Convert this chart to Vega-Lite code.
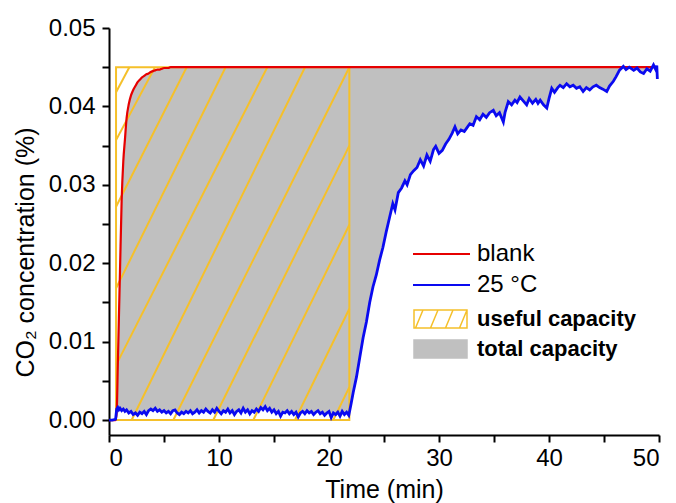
{
  "$schema": "https://vega.github.io/schema/vega-lite/v6.json",
  "width": 550,
  "height": 407,
  "autosize": "none",
  "padding": {"left": 109, "top": 28, "right": 17, "bottom": 68},
  "background": "white",
  "config": {
    "view": {"stroke": null},
    "axis": {
      "grid": false,
      "domainColor": "black",
      "domainWidth": 2,
      "tickColor": "black",
      "tickWidth": 2,
      "tickSize": 7,
      "labelFont": "Liberation Sans",
      "labelFontSize": 24,
      "labelColor": "black",
      "titleFont": "Liberation Sans",
      "titleFontSize": 25,
      "titleFontWeight": "normal",
      "titleColor": "black"
    }
  },
  "datasets": {
    "curves": [
      {"t": 0, "blank": 0, "co2": 0},
      {"t": 0.3, "blank": 0, "co2": 0},
      {"t": 0.6, "blank": 0, "co2": 0.0001},
      {"t": 0.7, "blank": 0.001, "co2": 0.0014},
      {"t": 0.8, "blank": 0.007, "co2": 0.0016},
      {"t": 0.9, "blank": 0.013, "co2": 0.0013},
      {"t": 1.0, "blank": 0.019, "co2": 0.0015},
      {"t": 1.15, "blank": 0.028, "co2": 0.0012},
      {"t": 1.3, "blank": 0.033, "co2": 0.0014},
      {"t": 1.45, "blank": 0.0358, "co2": 0.0011},
      {"t": 1.6, "blank": 0.0385, "co2": 0.0013},
      {"t": 1.8, "blank": 0.0403, "co2": 0.0009},
      {"t": 2.0, "blank": 0.0414, "co2": 0.0011},
      {"t": 2.2, "blank": 0.0421, "co2": 0.0007},
      {"t": 2.4, "blank": 0.0426, "co2": 0.0009},
      {"t": 2.6, "blank": 0.0431, "co2": 0.0006},
      {"t": 2.8, "blank": 0.0434, "co2": 0.0010},
      {"t": 3.0, "blank": 0.0437, "co2": 0.0008},
      {"t": 3.2, "blank": 0.0439, "co2": 0.0011},
      {"t": 3.4, "blank": 0.0441, "co2": 0.0007},
      {"t": 3.6, "blank": 0.0442, "co2": 0.0012},
      {"t": 3.8, "blank": 0.0444, "co2": 0.0014},
      {"t": 4.0, "blank": 0.0445, "co2": 0.0012},
      {"t": 4.2, "blank": 0.0446, "co2": 0.0015},
      {"t": 4.4, "blank": 0.0447, "co2": 0.0011},
      {"t": 4.6, "blank": 0.0447, "co2": 0.0013},
      {"t": 4.8, "blank": 0.0448, "co2": 0.0010},
      {"t": 5.0, "blank": 0.0449, "co2": 0.0012},
      {"t": 5.2, "blank": 0.0449, "co2": 0.0009},
      {"t": 5.4, "blank": 0.0449, "co2": 0.0011},
      {"t": 5.6, "blank": 0.045, "co2": 0.0008},
      {"t": 5.8, "blank": 0.045, "co2": 0.0012},
      {"t": 6.0, "blank": 0.045, "co2": 0.0013},
      {"t": 6.2, "blank": 0.045, "co2": 0.0009},
      {"t": 6.4, "blank": 0.045, "co2": 0.0007},
      {"t": 6.6, "blank": 0.045, "co2": 0.0010},
      {"t": 6.8, "blank": 0.045, "co2": 0.0008},
      {"t": 7.0, "blank": 0.045, "co2": 0.0011},
      {"t": 7.2, "blank": 0.045, "co2": 0.0009},
      {"t": 7.4, "blank": 0.045, "co2": 0.0012},
      {"t": 7.6, "blank": 0.045, "co2": 0.0008},
      {"t": 7.8, "blank": 0.045, "co2": 0.0010},
      {"t": 8.0, "blank": 0.045, "co2": 0.0013},
      {"t": 8.2, "blank": 0.045, "co2": 0.0009},
      {"t": 8.4, "blank": 0.045, "co2": 0.0012},
      {"t": 8.6, "blank": 0.045, "co2": 0.0010},
      {"t": 8.8, "blank": 0.045, "co2": 0.0014},
      {"t": 9.0, "blank": 0.045, "co2": 0.0011},
      {"t": 9.2, "blank": 0.045, "co2": 0.0009},
      {"t": 9.4, "blank": 0.045, "co2": 0.0013},
      {"t": 9.6, "blank": 0.045, "co2": 0.0010},
      {"t": 9.8, "blank": 0.045, "co2": 0.0015},
      {"t": 10.0, "blank": 0.045, "co2": 0.0011},
      {"t": 10.2, "blank": 0.045, "co2": 0.0008},
      {"t": 10.4, "blank": 0.045, "co2": 0.0012},
      {"t": 10.6, "blank": 0.045, "co2": 0.0010},
      {"t": 10.8, "blank": 0.045, "co2": 0.0014},
      {"t": 11.0, "blank": 0.045, "co2": 0.0009},
      {"t": 11.2, "blank": 0.045, "co2": 0.0012},
      {"t": 11.4, "blank": 0.045, "co2": 0.0007},
      {"t": 11.6, "blank": 0.045, "co2": 0.0011},
      {"t": 11.8, "blank": 0.045, "co2": 0.0013},
      {"t": 12.0, "blank": 0.045, "co2": 0.0009},
      {"t": 12.2, "blank": 0.045, "co2": 0.0015},
      {"t": 12.4, "blank": 0.045, "co2": 0.0010},
      {"t": 12.6, "blank": 0.045, "co2": 0.0013},
      {"t": 12.8, "blank": 0.045, "co2": 0.0008},
      {"t": 13.0, "blank": 0.045, "co2": 0.0012},
      {"t": 13.2, "blank": 0.045, "co2": 0.0010},
      {"t": 13.4, "blank": 0.045, "co2": 0.0014},
      {"t": 13.6, "blank": 0.045, "co2": 0.0011},
      {"t": 13.8, "blank": 0.045, "co2": 0.0016},
      {"t": 14.0, "blank": 0.045, "co2": 0.0013},
      {"t": 14.2, "blank": 0.045, "co2": 0.0017},
      {"t": 14.4, "blank": 0.045, "co2": 0.0012},
      {"t": 14.6, "blank": 0.045, "co2": 0.0015},
      {"t": 14.8, "blank": 0.045, "co2": 0.0010},
      {"t": 15.0, "blank": 0.045, "co2": 0.0013},
      {"t": 15.2, "blank": 0.045, "co2": 0.0008},
      {"t": 15.4, "blank": 0.045, "co2": 0.0011},
      {"t": 15.6, "blank": 0.045, "co2": 0.0005},
      {"t": 15.8, "blank": 0.045, "co2": 0.0010},
      {"t": 16.0, "blank": 0.045, "co2": 0.0009},
      {"t": 16.2, "blank": 0.045, "co2": 0.0012},
      {"t": 16.4, "blank": 0.045, "co2": 0.0008},
      {"t": 16.6, "blank": 0.045, "co2": 0.0011},
      {"t": 16.8, "blank": 0.045, "co2": 0.0007},
      {"t": 17.0, "blank": 0.045, "co2": 0.0010},
      {"t": 17.2, "blank": 0.045, "co2": 0.0004},
      {"t": 17.4, "blank": 0.045, "co2": 0.0009},
      {"t": 17.6, "blank": 0.045, "co2": 0.0011},
      {"t": 17.8, "blank": 0.045, "co2": 0.0008},
      {"t": 18.0, "blank": 0.045, "co2": 0.0012},
      {"t": 18.2, "blank": 0.045, "co2": 0.0009},
      {"t": 18.4, "blank": 0.045, "co2": 0.0011},
      {"t": 18.6, "blank": 0.045, "co2": 0.0007},
      {"t": 18.8, "blank": 0.045, "co2": 0.0010},
      {"t": 19.0, "blank": 0.045, "co2": 0.0012},
      {"t": 19.2, "blank": 0.045, "co2": 0.0008},
      {"t": 19.4, "blank": 0.045, "co2": 0.0010},
      {"t": 19.6, "blank": 0.045, "co2": 0.0006},
      {"t": 19.8, "blank": 0.045, "co2": 0.0009},
      {"t": 20.0, "blank": 0.045, "co2": 0.0011},
      {"t": 20.2, "blank": 0.045, "co2": 0.0003},
      {"t": 20.4, "blank": 0.045, "co2": 0.0009},
      {"t": 20.6, "blank": 0.045, "co2": 0.0007},
      {"t": 20.8, "blank": 0.045, "co2": 0.0010},
      {"t": 21.0, "blank": 0.045, "co2": 0.0005},
      {"t": 21.2, "blank": 0.045, "co2": 0.0011},
      {"t": 21.4, "blank": 0.045, "co2": 0.0007},
      {"t": 21.6, "blank": 0.045, "co2": 0.0010},
      {"t": 21.8, "blank": 0.045, "co2": 0.0006},
      {"t": 22.0, "blank": 0.045, "co2": 0.0020},
      {"t": 22.2, "blank": 0.045, "co2": 0.0035},
      {"t": 22.5, "blank": 0.045, "co2": 0.0055},
      {"t": 22.8, "blank": 0.045, "co2": 0.0080},
      {"t": 23.1, "blank": 0.045, "co2": 0.0105},
      {"t": 23.4, "blank": 0.045, "co2": 0.0125},
      {"t": 23.7, "blank": 0.045, "co2": 0.0150},
      {"t": 24.0, "blank": 0.045, "co2": 0.0170},
      {"t": 24.3, "blank": 0.045, "co2": 0.0185},
      {"t": 24.6, "blank": 0.045, "co2": 0.0204},
      {"t": 24.9, "blank": 0.045, "co2": 0.0220},
      {"t": 25.2, "blank": 0.045, "co2": 0.0240},
      {"t": 25.5, "blank": 0.045, "co2": 0.0258},
      {"t": 25.8, "blank": 0.045, "co2": 0.0276},
      {"t": 26.0, "blank": 0.045, "co2": 0.0268},
      {"t": 26.3, "blank": 0.045, "co2": 0.0290},
      {"t": 26.6, "blank": 0.045, "co2": 0.0296},
      {"t": 26.9, "blank": 0.045, "co2": 0.0305},
      {"t": 27.1, "blank": 0.045, "co2": 0.0300},
      {"t": 27.4, "blank": 0.045, "co2": 0.0313},
      {"t": 27.7, "blank": 0.045, "co2": 0.0318},
      {"t": 28.0, "blank": 0.045, "co2": 0.0322},
      {"t": 28.3, "blank": 0.045, "co2": 0.0332},
      {"t": 28.6, "blank": 0.045, "co2": 0.0324},
      {"t": 28.9, "blank": 0.045, "co2": 0.0338},
      {"t": 29.2, "blank": 0.045, "co2": 0.0330},
      {"t": 29.5, "blank": 0.045, "co2": 0.0345},
      {"t": 29.7, "blank": 0.045, "co2": 0.0349},
      {"t": 30.0, "blank": 0.045, "co2": 0.0340},
      {"t": 30.3, "blank": 0.045, "co2": 0.0344},
      {"t": 30.6, "blank": 0.045, "co2": 0.0352},
      {"t": 30.9, "blank": 0.045, "co2": 0.0358},
      {"t": 31.2, "blank": 0.045, "co2": 0.0366},
      {"t": 31.45, "blank": 0.045, "co2": 0.0374},
      {"t": 31.7, "blank": 0.045, "co2": 0.0365},
      {"t": 32.0, "blank": 0.045, "co2": 0.0370},
      {"t": 32.3, "blank": 0.045, "co2": 0.0368},
      {"t": 32.5, "blank": 0.045, "co2": 0.0372},
      {"t": 32.8, "blank": 0.045, "co2": 0.0378},
      {"t": 33.1, "blank": 0.045, "co2": 0.0376},
      {"t": 33.4, "blank": 0.045, "co2": 0.0387},
      {"t": 33.7, "blank": 0.045, "co2": 0.0383},
      {"t": 34.0, "blank": 0.045, "co2": 0.0390},
      {"t": 34.3, "blank": 0.045, "co2": 0.0386},
      {"t": 34.6, "blank": 0.045, "co2": 0.0392},
      {"t": 34.94, "blank": 0.045, "co2": 0.0395},
      {"t": 35.2, "blank": 0.045, "co2": 0.0388},
      {"t": 35.5, "blank": 0.045, "co2": 0.0392},
      {"t": 35.85, "blank": 0.045, "co2": 0.0380},
      {"t": 36.0, "blank": 0.045, "co2": 0.0392},
      {"t": 36.3, "blank": 0.045, "co2": 0.0406},
      {"t": 36.6, "blank": 0.045, "co2": 0.0402},
      {"t": 36.9, "blank": 0.045, "co2": 0.0408},
      {"t": 37.1, "blank": 0.045, "co2": 0.0405},
      {"t": 37.36, "blank": 0.045, "co2": 0.0412},
      {"t": 37.6, "blank": 0.045, "co2": 0.0408},
      {"t": 37.97, "blank": 0.045, "co2": 0.0402},
      {"t": 38.2, "blank": 0.045, "co2": 0.0410},
      {"t": 38.5, "blank": 0.045, "co2": 0.0404},
      {"t": 38.8, "blank": 0.045, "co2": 0.0409},
      {"t": 39.0, "blank": 0.045, "co2": 0.0404},
      {"t": 39.2, "blank": 0.045, "co2": 0.0408},
      {"t": 39.5, "blank": 0.045, "co2": 0.0402},
      {"t": 39.8, "blank": 0.045, "co2": 0.0398},
      {"t": 40.0, "blank": 0.045, "co2": 0.0410},
      {"t": 40.25, "blank": 0.045, "co2": 0.0423},
      {"t": 40.5, "blank": 0.045, "co2": 0.0418},
      {"t": 40.8, "blank": 0.045, "co2": 0.0424},
      {"t": 41.0, "blank": 0.045, "co2": 0.0427},
      {"t": 41.3, "blank": 0.045, "co2": 0.0424},
      {"t": 41.6, "blank": 0.045, "co2": 0.0429},
      {"t": 41.9, "blank": 0.045, "co2": 0.0425},
      {"t": 42.2, "blank": 0.045, "co2": 0.0427},
      {"t": 42.5, "blank": 0.045, "co2": 0.0423},
      {"t": 42.8, "blank": 0.045, "co2": 0.0425},
      {"t": 43.1, "blank": 0.045, "co2": 0.0419},
      {"t": 43.4, "blank": 0.045, "co2": 0.0424},
      {"t": 43.7, "blank": 0.045, "co2": 0.0421},
      {"t": 44.0, "blank": 0.045, "co2": 0.0425},
      {"t": 44.3, "blank": 0.045, "co2": 0.0427},
      {"t": 44.6, "blank": 0.045, "co2": 0.0424},
      {"t": 44.9, "blank": 0.045, "co2": 0.0422},
      {"t": 45.25, "blank": 0.045, "co2": 0.0419},
      {"t": 45.5, "blank": 0.045, "co2": 0.0426},
      {"t": 45.85, "blank": 0.045, "co2": 0.0432},
      {"t": 46.1, "blank": 0.045, "co2": 0.0438},
      {"t": 46.4, "blank": 0.045, "co2": 0.0446},
      {"t": 46.76, "blank": 0.045, "co2": 0.0451},
      {"t": 47.0, "blank": 0.045, "co2": 0.0447},
      {"t": 47.3, "blank": 0.045, "co2": 0.0450},
      {"t": 47.7, "blank": 0.045, "co2": 0.0446},
      {"t": 48.0, "blank": 0.045, "co2": 0.0449},
      {"t": 48.3, "blank": 0.045, "co2": 0.0444},
      {"t": 48.6, "blank": 0.045, "co2": 0.0442},
      {"t": 48.9, "blank": 0.045, "co2": 0.0448},
      {"t": 49.2, "blank": 0.045, "co2": 0.0445},
      {"t": 49.5, "blank": 0.045, "co2": 0.0453},
      {"t": 49.7, "blank": 0.045, "co2": 0.0447},
      {"t": 49.8, "blank": 0.045, "co2": 0.0452},
      {"t": 49.85, "blank": 0.045, "co2": 0.0435}
    ],
    "box": [
      {"start": 0.64, "end": 21.85, "low": 0, "high": 0.045, "kind": "useful capacity"}
    ],
    "hatch": [
      {"x1": 0.64, "y1": 0.0418, "x2": 1.85, "y2": 0.045},
      {"x1": 0.64, "y1": 0.0357, "x2": 4.18, "y2": 0.045},
      {"x1": 0.64, "y1": 0.0272, "x2": 7.06, "y2": 0.045},
      {"x1": 0.64, "y1": 0.0168, "x2": 10.6, "y2": 0.045},
      {"x1": 0.64, "y1": 0.007, "x2": 14.39, "y2": 0.045},
      {"x1": 2.06, "y1": 0, "x2": 17.82, "y2": 0.045},
      {"x1": 5.85, "y1": 0, "x2": 21.85, "y2": 0.045},
      {"x1": 9.48, "y1": 0, "x2": 21.85, "y2": 0.035},
      {"x1": 13.12, "y1": 0, "x2": 21.85, "y2": 0.0249},
      {"x1": 16.91, "y1": 0, "x2": 21.85, "y2": 0.0142},
      {"x1": 20.39, "y1": 0, "x2": 21.85, "y2": 0.0042}
    ]
  },
  "layer": [
    {
      "data": {"name": "curves"},
      "mark": {"type": "area", "opacity": 1, "interpolate": "linear"},
      "encoding": {
        "x": {
          "field": "t", "type": "quantitative",
          "scale": {"domain": [0, 50], "nice": false, "zero": false},
          "axis": {
            "title": "Time (min)",
            "values": [0, 5, 10, 15, 20, 25, 30, 35, 40, 45, 50],
            "format": "d",
            "labelExpr": "datum.value % 10 == 0 ? datum.label : ''",
            "labelPadding": 4,
            "titleBaseline": "alphabetic",
            "titleY": 62
          }
        },
        "y": {
          "field": "blank", "type": "quantitative",
          "scale": {"domain": [-0.00191, 0.05], "nice": false, "zero": false},
          "axis": {
            "title": "CO₂ concentration (%)",
            "values": [0, 0.005, 0.01, 0.015, 0.02, 0.025, 0.03, 0.035, 0.04, 0.045, 0.05],
            "format": ".2f",
            "labelExpr": "round(datum.value * 1000) % 10 == 0 ? datum.label : ''",
            "labelPadding": 7,
            "titleAngle": -90,
            "titleBaseline": "alphabetic",
            "titleAlign": "center",
            "titleX": -76,
            "titleY": 224
          }
        },
        "y2": {"field": "co2"},
        "fill": {
          "datum": "total capacity",
          "scale": {"domain": ["useful capacity", "total capacity"], "range": ["transparent", "#C0C0C0"]},
          "legend": {
            "orient": "none",
            "legendX": 320.5,
            "legendY": 280,
            "title": null,
            "padding": 0,
            "symbolType": "M-2.65,-0.9H2.65V0.9H-2.65Z M-2.5,0.9L-1.75,-0.9 M-1,0.9L-0.25,-0.9 M0.5,0.9L1.25,-0.9 M1.9,0.9L2.65,-0.9",
            "symbolSize": 400,
            "symbolStrokeWidth": 1.5,
            "symbolOpacity": 1,
            "labelFont": "Liberation Sans",
            "labelFontSize": 22,
            "labelFontWeight": "bold",
            "labelColor": "black",
            "labelOffset": 25.5,
            "rowPadding": 6
          }
        }
      }
    },
    {
      "data": {"name": "box"},
      "mark": {"type": "rect", "strokeWidth": 2},
      "encoding": {
        "x": {"field": "start", "type": "quantitative"},
        "x2": {"field": "end"},
        "y": {"field": "low", "type": "quantitative"},
        "y2": {"field": "high"},
        "fill": {"field": "kind", "type": "nominal"},
        "stroke": {
          "field": "kind", "type": "nominal",
          "scale": {"domain": ["useful capacity", "total capacity"], "range": ["#F5C02A", "#C0C0C0"]},
          "legend": {
            "orient": "none",
            "legendX": 320.5,
            "legendY": 280,
            "title": null,
            "padding": 0,
            "symbolType": "M-2.65,-0.9H2.65V0.9H-2.65Z M-2.5,0.9L-1.75,-0.9 M-1,0.9L-0.25,-0.9 M0.5,0.9L1.25,-0.9 M1.9,0.9L2.65,-0.9",
            "symbolSize": 400,
            "symbolStrokeWidth": 1.5,
            "symbolOpacity": 1,
            "labelFont": "Liberation Sans",
            "labelFontSize": 22,
            "labelFontWeight": "bold",
            "labelColor": "black",
            "labelOffset": 25.5,
            "rowPadding": 6
          }
        }
      }
    },
    {
      "data": {"name": "hatch"},
      "mark": {"type": "rule", "color": "#F5C02A", "strokeWidth": 2},
      "encoding": {
        "x": {"field": "x1", "type": "quantitative"},
        "x2": {"field": "x2"},
        "y": {"field": "y1", "type": "quantitative"},
        "y2": {"field": "y2"}
      }
    },
    {
      "data": {"name": "curves"},
      "mark": {"type": "line", "interpolate": "monotone", "strokeWidth": 2.2},
      "encoding": {
        "x": {"field": "t", "type": "quantitative"},
        "y": {"field": "blank", "type": "quantitative"},
        "color": {
          "datum": "blank",
          "scale": {"domain": ["blank", "25 °C"], "range": ["#E60000", "#0A0AF0"]},
          "legend": {
            "orient": "none",
            "legendX": 320.5,
            "legendY": 214,
            "title": null,
            "padding": 0,
            "symbolType": "M-2.85,0H2.85",
            "symbolSize": 400,
            "symbolStrokeWidth": 2,
            "labelFont": "Liberation Sans",
            "labelFontSize": 24,
            "labelColor": "black",
            "labelOffset": 23.5,
            "rowPadding": 7
          }
        }
      }
    },
    {
      "data": {"name": "curves"},
      "mark": {"type": "line", "interpolate": "linear", "strokeWidth": 2.8},
      "encoding": {
        "x": {"field": "t", "type": "quantitative"},
        "y": {"field": "co2", "type": "quantitative"},
        "color": {"datum": "25 °C"}
      }
    }
  ]
}
